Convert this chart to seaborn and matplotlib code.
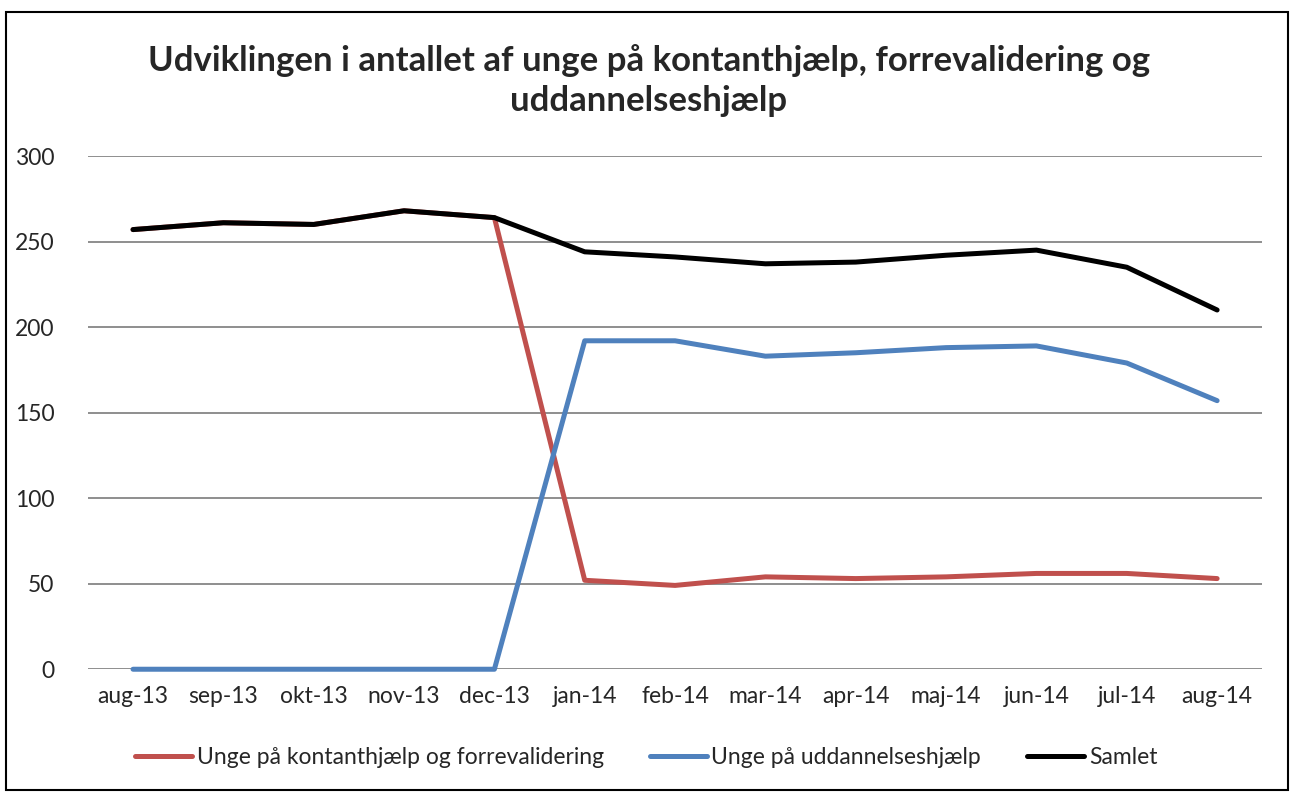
import pandas as pd
import seaborn as sns
import matplotlib.pyplot as plt
from matplotlib.patches import Rectangle

months = ['aug-13', 'sep-13', 'okt-13', 'nov-13', 'dec-13', 'jan-14', 'feb-14',
          'mar-14', 'apr-14', 'maj-14', 'jun-14', 'jul-14', 'aug-14']
kontant = [257, 261, 260, 268, 264, 52, 49, 54, 53, 54, 56, 56, 53]
uddannelse = [0, 0, 0, 0, 0, 192, 192, 183, 185, 188, 189, 179, 157]
samlet = [257, 261, 260, 268, 264, 244, 241, 237, 238, 242, 245, 235, 210]

series_names = ['Unge på kontanthjælp og forrevalidering', 'Unge på uddannelseshjælp', 'Samlet']
colors = ['#C0504D', '#4F81BD', '#000000']

df = pd.DataFrame({'month': months, series_names[0]: kontant,
                   series_names[1]: uddannelse, series_names[2]: samlet})
long = df.melt(id_vars='month', var_name='serie', value_name='antal')

sns.set_style('white')
plt.rcParams['font.family'] = ['Lato', 'DejaVu Sans']

fig = plt.figure(figsize=(12.92, 7.92), dpi=100)
ax = fig.add_axes([0.068, 0.155, 0.909, 0.648])

sns.lineplot(data=long, x='month', y='antal', hue='serie', hue_order=series_names,
             palette=colors, linewidth=3.6, sort=False, ax=ax, legend=False)
for ln in ax.lines:
    ln.set_solid_capstyle('round')
    ln.set_clip_on(False)

ax.set_xlim(-0.5, len(months) - 0.5)
ax.set_ylim(0, 300)
ax.set_yticks(range(0, 301, 50))
ax.yaxis.grid(True, color='#868686', linewidth=1.3)
ax.set_axisbelow(True)
for s in ax.spines.values():
    s.set_visible(False)
ax.tick_params(axis='both', labelsize=16.5, length=0)
ax.tick_params(axis='y', pad=24)
ax.tick_params(axis='x', pad=12)
ax.set_xlabel('')
ax.set_ylabel('')

fig.text(0.502, 0.898, 'Udviklingen i antallet af unge på kontanthjælp, forrevalidering og\nuddannelseshjælp',
         ha='center', va='center', fontsize=25, fontweight='bold', linespacing=1.32)

handles = [plt.Line2D([], [], color=c, linewidth=3.6, solid_capstyle='round') for c in colors]
fig.legend(handles, series_names, loc='center', bbox_to_anchor=(0.5, 0.044), ncol=3,
           frameon=False, fontsize=16.5, handlelength=2.5, handletextpad=0.2, columnspacing=2.0)

fig.add_artist(Rectangle((0.005, 0.002), 0.992, 0.983, transform=fig.transFigure,
                         fill=False, edgecolor='black', linewidth=1.5))

fig.savefig('out.png', dpi=100)
